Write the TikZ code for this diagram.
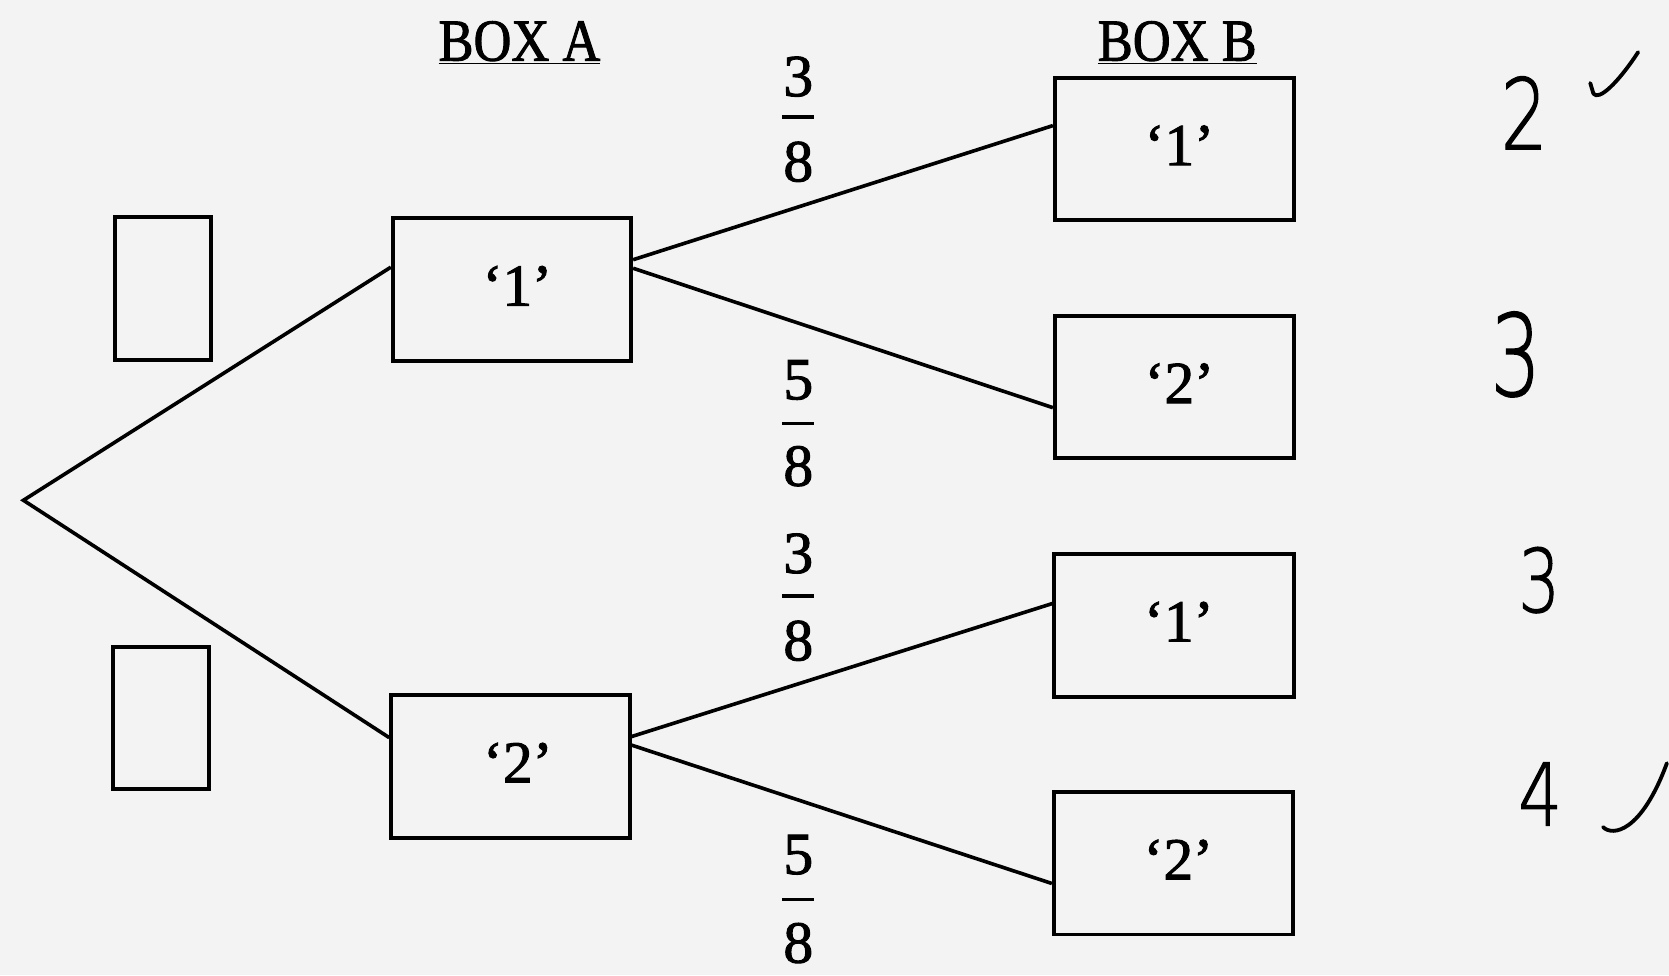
\documentclass[tikz,border=0pt]{standalone}
\usepackage{graphicx}
\usepackage{fontspec}
\setmainfont{Liberation Serif}[FakeBold=1.6]
\newfontfamily\hand{DejaVu Sans ExtraLight}[FakeBold=1.5]
\definecolor{bg}{RGB}{243,243,243}
\begin{document}
\begin{tikzpicture}[x=1pt,y=-1pt,
  every node/.style={inner sep=0pt},
  bx/.style={draw, line width=3.6pt, minimum height=134pt},
  boxa/.style={bx, minimum width=224pt, font=\fontsize{56}{60}\selectfont},
  boxb/.style={bx, minimum width=225pt, font=\fontsize{56}{60}\selectfont},
  small/.style={bx, minimum width=90pt},
  lbl/.style={font=\fontsize{56}{60}\selectfont},
  conn/.style={line width=3.4pt},
  fracbar/.style={line width=3.4pt},
  hw/.style={font=\hand},
  tick/.style={line width=3.6pt, line cap=round, line join=round}]
\fill[bg] (0,0) rectangle (1568,916);
\useasboundingbox (0,0) rectangle (1568,916);

% titles
\node[lbl, anchor=base] (ta) at (488,57) {\scalebox{0.88}[1]{\underline{BOX A}}};
\node[lbl, anchor=base] (tb) at (1106,57) {\scalebox{0.88}[1]{\underline{BOX B}}};

% empty boxes
\node[small] (s1) at (153,271) {};
\node[small] (s2) at (151.5,674.5) {};

% box A
\node[boxa] (A1) at (481,272) {\raisebox{7pt}{\hspace{10pt}‘1’}};
\node[boxa] (A2) at (479.5,720) {\raisebox{7pt}{\hspace{14pt}‘2’}};

% box B
\node[boxb] (B1) at (1103.5,140) {\raisebox{7pt}{\hspace{9pt}‘1’}};
\node[boxb] (B2) at (1103.5,363.5) {\raisebox{7pt}{\hspace{9pt}‘2’}};
\node[boxb] (B3) at (1103,587.5) {\raisebox{7pt}{\hspace{9pt}‘1’}};
\node[boxb] (B4) at (1102.5,811) {\raisebox{7pt}{\hspace{9pt}‘2’}};

% connectors
\coordinate (root) at (22,470);
\draw[conn] ([yshift=21pt]A1.west) -- (root) -- ([yshift=27pt]A2.west);
\draw[conn] ([yshift=28pt]A1.east) -- ([yshift=22pt]B1.west);
\draw[conn] ([yshift=20pt]A1.east) -- ([yshift=-19.5pt]B2.west);
\draw[conn] ([yshift=28pt]A2.east) -- ([yshift=20.5pt]B3.west);
\draw[conn] ([yshift=20pt]A2.east) -- ([yshift=-19pt]B4.west);

% fractions
\node[lbl] (f1n) at (750,72) {3};
\draw[fracbar] (735,110) -- (765,110);
\node[lbl] (f1d) at (750,152) {8};
\node[lbl] (f2n) at (750,357) {5};
\draw[fracbar] (735,398) -- (765,398);
\node[lbl] (f2d) at (750,438) {8};
\node[lbl] (f3n) at (750,520) {3};
\draw[fracbar] (735,560) -- (765,560);
\node[lbl] (f3d) at (750,602) {8};
\node[lbl] (f4n) at (750,803) {5};
\draw[fracbar] (735,845) -- (765,845);
\node[lbl] (f4d) at (750,886) {8};

% handwritten marks
\node[hw] (h1) at (1432,106) {\fontsize{92}{92}\selectfont\scalebox{0.75}[1]{2}};
\node[hw] (h2) at (1424,333) {\fontsize{106}{106}\selectfont\scalebox{0.7}[1]{3}};
\node[hw] (h3) at (1446,545) {\fontsize{82}{82}\selectfont\scalebox{0.75}[1]{3}};
\node[hw] (h4) at (1447,746) {\fontsize{81}{81}\selectfont\scalebox{0.8}[1]{4}};
\draw[tick] (1494,78) -- (1497,88) .. controls (1502,95) and (1520,78) .. (1539,49);
\draw[tick] (1506,777) .. controls (1515,786) and (1542,782) .. (1566,717);
\end{tikzpicture}
\end{document}
